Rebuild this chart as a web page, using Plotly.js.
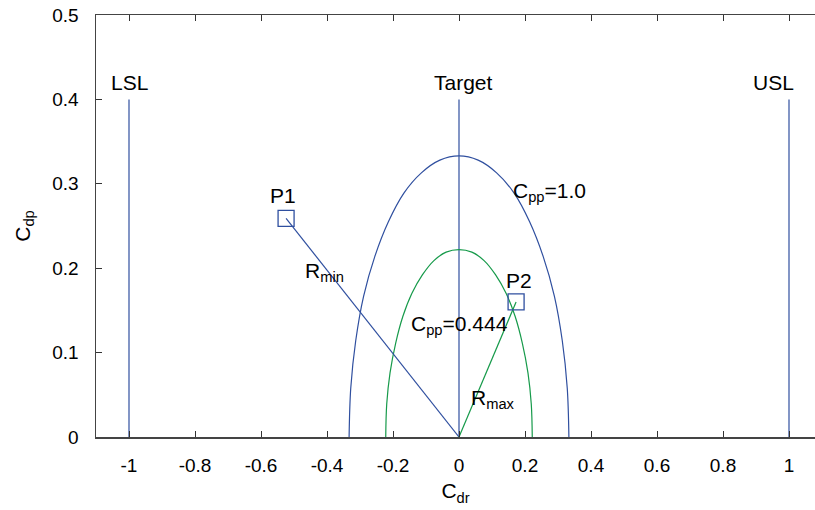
<!DOCTYPE html>
<html><head><meta charset="utf-8">
<script src="https://cdn.plot.ly/plotly-3.0.1.min.js"></script>
<style>body{margin:0;padding:0;background:#fff}#chart{width:815px;height:510px}</style>
</head><body><div id="chart"></div>
<script>
// Cpp = 1.0 contour
const cpp1X = [0.333,0.328,0.313,0.289,0.255,0.214,0.167,0.114,0.058,0,-0.058,-0.114,-0.167,-0.214,-0.255,-0.289,-0.313,-0.328,-0.333];
const cpp1Y = [0,0.058,0.114,0.167,0.214,0.255,0.289,0.313,0.328,0.333,0.328,0.313,0.289,0.255,0.214,0.167,0.114,0.058,0];
// Cpp = 0.444 contour
const cpp2X = [0.222,0.219,0.209,0.192,0.170,0.143,0.111,0.076,0.039,0,-0.039,-0.076,-0.111,-0.143,-0.170,-0.192,-0.209,-0.219,-0.222];
const cpp2Y = [0,0.039,0.076,0.111,0.143,0.170,0.192,0.209,0.219,0.222,0.219,0.209,0.192,0.170,0.143,0.111,0.076,0.039,0];
// Spec limits
const limitNames = ['LSL','Target','USL'];
const limitX = [-1, 0, 1];
const limitTop = 0.4;
// Points
const pointNames = ['P1','P2'];
const pointX = [-0.524, 0.173];
const pointY = [0.259, 0.160];
const origin = [0, 0];
// Tick labels
const xTicks = [-1,-0.8,-0.6,-0.4,-0.2,0,0.2,0.4,0.6,0.8,1];
const yTicks = [0,0.1,0.2,0.3,0.4,0.5];

const BLUE = '#2f4f9f', GREEN = '#169a4a';
const traces = [];
limitX.forEach(x => traces.push({x:[x,x], y:[0,limitTop], mode:'lines', line:{color:BLUE,width:1.2}, hoverinfo:'skip'}));
traces.push({x:cpp1X, y:cpp1Y, mode:'lines', line:{color:BLUE,width:1.2,shape:'spline'}});
traces.push({x:cpp2X, y:cpp2Y, mode:'lines', line:{color:GREEN,width:1.2,shape:'spline'}});
traces.push({x:[origin[0],pointX[0]], y:[origin[1],pointY[0]], mode:'lines', line:{color:BLUE,width:1.2}});
traces.push({x:[origin[0],pointX[1]], y:[origin[1],pointY[1]], mode:'lines', line:{color:GREEN,width:1.2}});
traces.push({x:pointX, y:pointY, mode:'markers', marker:{symbol:'square-open',size:16,color:BLUE,line:{width:1.3,color:BLUE}}});

const FA = {family:'Liberation Sans, Arial, sans-serif', size:21, color:'#000'};
const FT = {family:'Liberation Sans, Arial, sans-serif', size:19, color:'#000'};
const ann = [];
const limShift = [0, 4, -16];
limitNames.forEach((n,i)=>ann.push({x:limitX[i], y:0.42, text:n, showarrow:false, font:FA, xanchor:'center', yanchor:'middle', xshift:limShift[i]}));
ann.push({x:pointX[0]-0.01, y:0.286, text:pointNames[0], showarrow:false, font:FA, yanchor:'middle'});
ann.push({x:pointX[1]+0.01, y:0.185, text:pointNames[1], showarrow:false, font:FA, yanchor:'middle'});
ann.push({x:0.157, y:0.29, text:'C<sub>pp</sub>=1.0', showarrow:false, font:FA, xanchor:'left', yanchor:'middle'});
ann.push({x:-0.152, y:0.133, text:'C<sub>pp</sub>=0.444', showarrow:false, font:FA, xanchor:'left', yanchor:'middle'});
ann.push({x:-0.472, y:0.195, text:'R<sub>min</sub>', showarrow:false, font:FA, xanchor:'left', yanchor:'middle'});
ann.push({x:0.03, y:0.045, text:'R<sub>max</sub>', showarrow:false, font:FA, xanchor:'left', yanchor:'middle'});

const layout = {
  width:815, height:510, showlegend:false,
  paper_bgcolor:'#fff', plot_bgcolor:'#fff',
  margin:{l:96, r:0, t:15, b:73},
  font:FT,
  xaxis:{range:[-1.1,1.0788], tickvals:xTicks, ticktext:xTicks.map(String), ticks:'inside', ticklen:6, tickcolor:'#333',
    showline:true, linecolor:'#444', linewidth:1.5, mirror:'ticks', showgrid:false, zeroline:false,
    ticklabelstandoff:11, tickfont:FT, title:{text:'C<sub>dr</sub>', font:FA, standoff:8}},
  yaxis:{range:[0,0.5], tickvals:yTicks, ticktext:yTicks.map(String), ticks:'inside', ticklen:6, tickcolor:'#333',
    showline:true, linecolor:'#444', linewidth:1.5, showgrid:false, zeroline:false,
    ticklabelstandoff:12, tickfont:FT, title:{text:'C<sub>dp</sub>', font:FA, standoff:16}},
  annotations:ann
};
Plotly.newPlot('chart', traces, layout, {displayModeBar:false, staticPlot:true});
</script></body></html>
